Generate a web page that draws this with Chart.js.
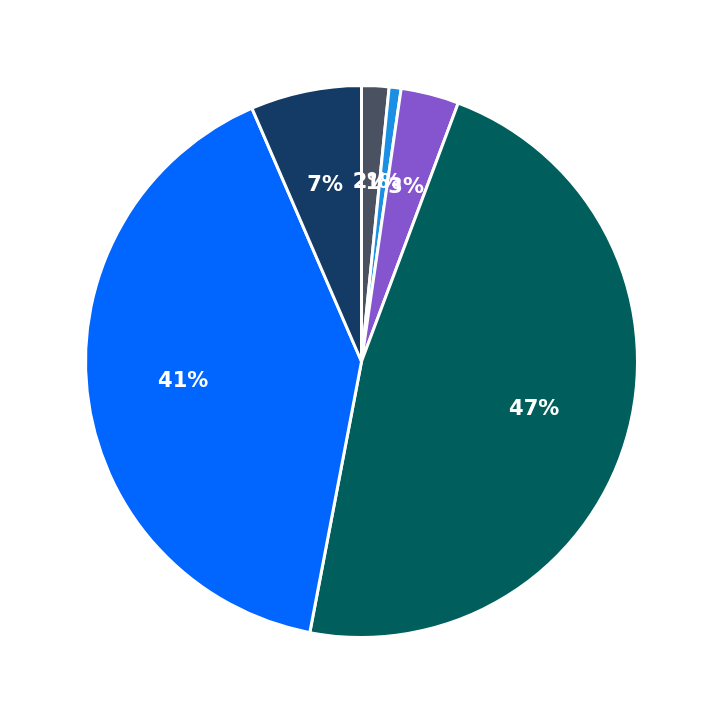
<!DOCTYPE html>
<html>
<head>
<meta charset="utf-8">
<script src="https://cdn.jsdelivr.net/npm/chart.js@4/dist/chart.umd.min.js"></script>
<style>
  html, body { margin: 0; padding: 0; background: #fff; }
  #wrap { width: 723px; height: 723px; }
</style>
</head>
<body>
<div id="wrap"><canvas id="pie"></canvas></div>
<script>
// slices, clockwise from 12 o'clock
const labels = ['A', 'B', 'C', 'D', 'E', 'F'];
const values = [1.6, 0.7, 3.4, 47.3, 40.5, 6.5];
const colors = ['#4a5160', '#1a8fe3', '#8455cf', '#005f5c', '#0066ff', '#143a66'];

// percent labels drawn inside the slices
const pctLabels = {
    id: 'pctLabels',
    afterDatasetsDraw(chart) {
        const ctx = chart.ctx;
        const meta = chart.getDatasetMeta(0);
        const total = values.reduce((a, b) => a + b, 0);
        ctx.save();
        ctx.fillStyle = '#fff';
        ctx.font = 'bold 21px "DejaVu Sans"';
        ctx.textAlign = 'center';
        ctx.textBaseline = 'middle';
        meta.data.forEach((arc, i) => {
            const mid = (arc.startAngle + arc.endAngle) / 2;
            const r = arc.outerRadius * 0.65;
            const x = arc.x + Math.cos(mid) * r;
            const y = arc.y + Math.sin(mid) * r;
            ctx.fillText(Math.round(values[i] / total * 100) + '%', x, y);
        });
        ctx.restore();
    }
};

new Chart(document.getElementById('pie'), {
    type: 'pie',
    data: {
        labels: labels,
        datasets: [{
            data: values,
            backgroundColor: colors,
            borderColor: '#fff',
            borderWidth: 3
        }]
    },
    options: {
        responsive: true,
        maintainAspectRatio: false,
        animation: false,
        layout: { padding: 84 },
        plugins: { legend: { display: false }, tooltip: { enabled: false } }
    },
    plugins: [pctLabels]
});
</script>
</body>
</html>
